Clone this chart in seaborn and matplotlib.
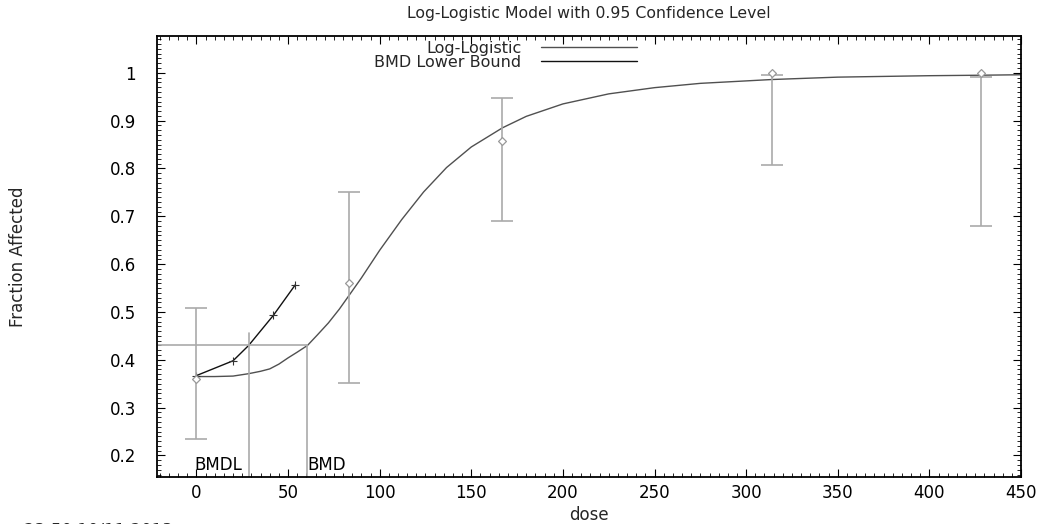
import matplotlib
matplotlib.use('Agg')
import matplotlib.pyplot as plt
from matplotlib.ticker import MultipleLocator
import pandas as pd
import seaborn as sns

# observed data with confidence limits
dose = [0, 83, 167, 314, 428]
frac = [0.360, 0.560, 0.857, 1.000, 1.000]
lower = [0.234, 0.352, 0.690, 0.807, 0.679]
upper = [0.509, 0.750, 0.947, 0.996, 0.992]

# fitted log-logistic curve
curve_dose = [0, 10, 20, 28.5, 35, 40, 45, 50, 55, 60.6, 66, 72, 78, 83, 90, 100,
              112, 124, 136.5, 150, 167, 180, 200, 225, 250, 275, 314, 350, 400,
              428, 450]
curve_frac = [0.365, 0.365, 0.366, 0.371, 0.376, 0.381, 0.391, 0.404, 0.416, 0.430,
              0.452, 0.477, 0.506, 0.533, 0.571, 0.629, 0.693, 0.751, 0.802, 0.845,
              0.885, 0.909, 0.935, 0.956, 0.969, 0.978, 0.986, 0.991, 0.994, 0.995,
              0.996]

# BMD lower bound curve
lb_dose = [0, 20, 28.5, 42, 54]
lb_frac = [0.367, 0.398, 0.430, 0.493, 0.557]

bmr_level = 0.43
bmdl = 28.5
bmd = 60.6
bmdl_top = 0.456

sns.set_theme(style='ticks')
plt.rcParams['font.family'] = ['DejaVu Sans']

fig = plt.figure(figsize=(10.44, 5.24), dpi=100)
ax = fig.add_axes([0.1504, 0.0897, 0.978 - 0.1504, 0.9313 - 0.0897])

curve = pd.DataFrame({'dose': curve_dose, 'frac': curve_frac})
lb = pd.DataFrame({'dose': lb_dose, 'frac': lb_frac})
obs = pd.DataFrame({'dose': dose, 'frac': frac, 'lower': lower, 'upper': upper})

sns.lineplot(data=curve, x='dose', y='frac', ax=ax, color='#505050', lw=1.0,
             sort=False, estimator=None, label='Log-Logistic')
sns.lineplot(data=lb, x='dose', y='frac', ax=ax, color='#111111', lw=1.0,
             sort=False, estimator=None, label='BMD Lower Bound')
ax.plot(lb_dose, lb_frac, ls='none', marker='+', ms=6, mew=0.8, color='#333333',
        markevery=[0, 1, 3, 4])

# error bars (vertical line + caps)
cap = 6
ax.vlines(obs['dose'], obs['lower'], obs['upper'], color='#aaaaaa', lw=1.2)
ax.hlines(obs['lower'], obs['dose'] - cap, obs['dose'] + cap, color='#aaaaaa', lw=1.2)
ax.hlines(obs['upper'], obs['dose'] - cap, obs['dose'] + cap, color='#aaaaaa', lw=1.2)
sns.scatterplot(data=obs, x='dose', y='frac', ax=ax, marker='D', s=16,
                facecolor='white', edgecolor='#999999', linewidth=0.9, zorder=5)

# BMD / BMDL markers
ax.plot([-21.5, bmd], [bmr_level, bmr_level], color='#aaaaaa', lw=1.2)
ax.plot([bmdl, bmdl], [0.15, bmdl_top], color='#aaaaaa', lw=1.2)
ax.plot([bmd, bmd], [0.15, bmr_level], color='#aaaaaa', lw=1.2)
ax.text(-1, 0.181, 'BMDL', fontsize=12, va='center', ha='left', color='black')
ax.text(bmd, 0.181, 'BMD', fontsize=12, va='center', ha='left', color='black')

ax.set_xlim(-21.5, 450)
ax.set_ylim(0.155, 1.077)
ax.xaxis.set_major_locator(MultipleLocator(50))
ax.xaxis.set_minor_locator(MultipleLocator(5))
ax.yaxis.set_minor_locator(MultipleLocator(0.01))
ax.set_yticks([0.2, 0.3, 0.4, 0.5, 0.6, 0.7, 0.8, 0.9, 1.0])
ax.set_yticklabels(['0.2', '0.3', '0.4', '0.5', '0.6', '0.7', '0.8', '0.9', '1'])
ax.tick_params(which='both', direction='in', top=True, right=True, colors='black',
               labelsize=12)
ax.tick_params(which='major', length=6, width=0.8)
ax.tick_params(which='minor', length=3, width=0.6)
ax.tick_params(axis='x', pad=5)
ax.tick_params(axis='y', pad=15)
for s in ax.spines.values():
    s.set_linewidth(1.3)
    s.set_color('black')

ax.set_xlabel('dose', fontsize=12)
ax.set_ylabel('Fraction Affected', fontsize=12)
ax.xaxis.set_label_coords(0.5, -0.066)
ax.yaxis.set_label_coords(-0.150, 0.5)
ax.set_title('Log-Logistic Model with 0.95 Confidence Level', fontsize=11.3, pad=13)

ax.legend(loc='upper right', bbox_to_anchor=(0.5556, 0.989), frameon=False,
          markerfirst=False, handlelength=6.0, fontsize=11.5, borderaxespad=0,
          borderpad=0, labelspacing=-0.05, handletextpad=1.25)

fig.text(24 / 1044, 2.5 / 524, '23:50 10/11 2013', fontsize=12, va='top', ha='left')

fig.savefig('out.png', dpi=100)
